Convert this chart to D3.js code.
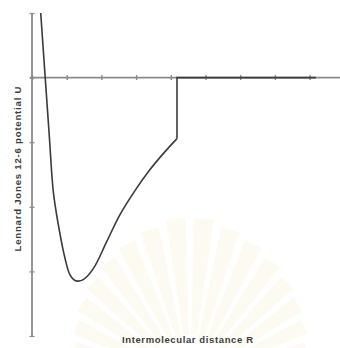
<!DOCTYPE html>
<html>
<head>
<meta charset="utf-8">
<script src="https://cdn.jsdelivr.net/npm/d3@7"></script>
<style>
  html, body { margin: 0; padding: 0; background: #ffffff; }
  svg { display: block; }
</style>
</head>
<body>
<script>
// Truncated Lennard-Jones 12-6 potential: smooth part up to the cutoff distance
const curveR = [0.251, 0.496, 0.614, 0.758, 0.951, 1.095, 1.239, 1.326, 1.478, 1.767, 2.153, 2.536, 2.968, 3.401, 3.833, 4.179];
const curveU = [1.0, -0.882, -1.765, -2.276, -2.797, -3.054, -3.142, -3.150, -3.127, -2.957, -2.539, -2.121, -1.749, -1.424, -1.146, -0.944];

// Jump to zero at the cutoff, then flat beyond it
const cutoffR = [4.179, 4.179, 8.18];
const cutoffU = [-0.944, 0.0, 0.0];

const xTicks = [0, 1, 2, 3, 4, 5, 6, 7, 8];
const yTicks = [1, 0, -1, -2, -3, -4];

const xTitle = "Intermolecular distance R";
const yTitle = "Lennard Jones 12-6 potential U";

const W = 340, H = 348;
const svg = d3.select("body").append("svg").attr("width", W).attr("height", H);

const x = d3.scaleLinear().domain([0, 9]).range([32, 344.3]);
const y = d3.scaleLinear().domain([-4, 1]).range([336, 13]);

const axisColor = "#8a8a8a";
const lineColor = "#3a3a3a";

// Faint fan-shaped background emblem near the bottom
const fan = svg.append("g").attr("transform", "translate(190,380)");
const rays = d3.range(-75, 76, 10);
fan.selectAll("path.ray")
  .data(rays)
  .join("path")
  .attr("class", "ray")
  .attr("fill", "#fdfbf1")
  .attr("d", a => d3.arc()({ innerRadius: 45, outerRadius: 165 - Math.abs(a) * 0.6,
                              startAngle: (a - 3.5) * Math.PI / 180, endAngle: (a + 3.5) * Math.PI / 180 }));

// Horizontal axis through U = 0, ticks crossing the line
const xAxis = d3.axisBottom(x).tickValues(xTicks).tickSize(5).tickFormat("");
const gx = svg.append("g").attr("transform", `translate(0,${y(0) - 2.5})`).call(xAxis);
gx.select(".domain").remove();
gx.selectAll(".tick line").attr("stroke", axisColor).attr("stroke-width", 1.4);
svg.append("line")
  .attr("x1", x(0) - 2).attr("x2", W)
  .attr("y1", y(0)).attr("y2", y(0))
  .attr("stroke", axisColor).attr("stroke-width", 1.6);

// Vertical axis at R = 0
const yAxis = d3.axisLeft(y).tickValues(yTicks).tickSize(5).tickFormat("");
const gy = svg.append("g").attr("transform", `translate(${x(0) + 2.5},0)`).call(yAxis);
gy.select(".domain").remove();
gy.selectAll(".tick line").attr("stroke", axisColor).attr("stroke-width", 1.2);
svg.append("line")
  .attr("x1", x(0)).attr("x2", x(0))
  .attr("y1", y(1)).attr("y2", y(-4))
  .attr("stroke", axisColor).attr("stroke-width", 1.8);

// Potential curve
const curvePts = curveR.map((r, i) => [r, curveU[i]]);
svg.append("path")
  .datum(curvePts)
  .attr("fill", "none")
  .attr("stroke", lineColor)
  .attr("stroke-width", 1.6)
  .attr("stroke-linejoin", "round")
  .attr("d", d3.line().x(d => x(d[0])).y(d => y(d[1])).curve(d3.curveCatmullRom.alpha(0.5)));

const cutPts = cutoffR.map((r, i) => [r, cutoffU[i]]);
svg.append("path")
  .datum(cutPts)
  .attr("fill", "none")
  .attr("stroke", lineColor)
  .attr("stroke-width", 1.6)
  .attr("d", d3.line().x(d => x(d[0])).y(d => y(d[1])));

// Axis titles
svg.append("text")
  .attr("x", 187.5).attr("y", 343)
  .attr("text-anchor", "middle")
  .attr("font-family", "Liberation Sans, Arial, sans-serif")
  .attr("font-weight", "bold")
  .attr("font-size", 9.5)
  .attr("fill", "#3c3c3c")
  .attr("textLength", 131)
  .attr("lengthAdjust", "spacing")
  .text(xTitle);

svg.append("text")
  .attr("transform", `translate(20.5,169) rotate(-90)`)
  .attr("text-anchor", "middle")
  .attr("font-family", "Liberation Sans, Arial, sans-serif")
  .attr("font-weight", "bold")
  .attr("font-size", 9.5)
  .attr("fill", "#3c3c3c")
  .attr("textLength", 165)
  .attr("lengthAdjust", "spacing")
  .text(yTitle);
</script>
</body>
</html>
